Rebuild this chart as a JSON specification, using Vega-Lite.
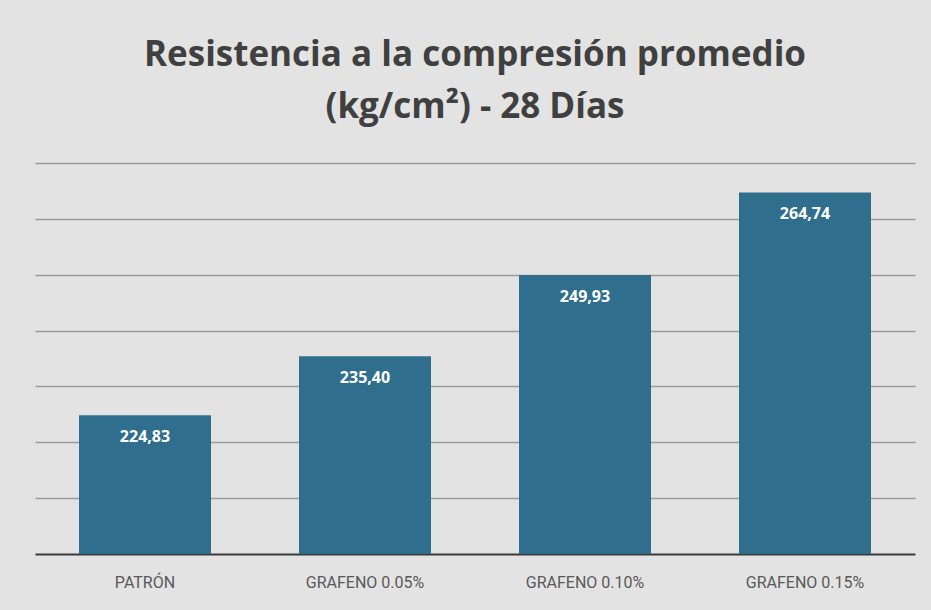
{
  "$schema": "https://vega.github.io/schema/vega-lite/v6.json",
  "autosize": "none",
  "width": 880,
  "height": 391,
  "padding": {"left": 35, "top": 163, "right": 16, "bottom": 56},
  "background": "#e3e3e3",
  "title": {
    "text": ["Resistencia a la compresión promedio", "(kg/cm²) - 28 Días"],
    "font": "Open Sans",
    "fontSize": 35,
    "fontWeight": "bold",
    "color": "#404040",
    "anchor": "middle",
    "frame": "group",
    "lineHeight": 52,
    "offset": 38
  },
  "data": {
    "values": [
      {"grupo": "PATRÓN", "valor": 224.83, "etiqueta": "224,83"},
      {"grupo": "GRAFENO 0.05%", "valor": 235.40, "etiqueta": "235,40"},
      {"grupo": "GRAFENO 0.10%", "valor": 249.93, "etiqueta": "249,93"},
      {"grupo": "GRAFENO 0.15%", "valor": 264.74, "etiqueta": "264,74"}
    ]
  },
  "encoding": {
    "x": {
      "field": "grupo",
      "type": "nominal",
      "sort": null,
      "scale": {"paddingInner": 0.4, "paddingOuter": 0.2},
      "axis": {
        "title": null,
        "labelAngle": 0,
        "labelFont": "Roboto",
        "labelFontSize": 16,
        "labelColor": "#595959",
        "labelPadding": 20,
        "ticks": false,
        "domainColor": "#3a3a3a",
        "domainWidth": 2
      }
    },
    "y": {
      "field": "valor",
      "type": "quantitative",
      "scale": {"domain": [200, 270], "nice": false, "zero": false},
      "axis": {
        "title": null,
        "labels": false,
        "ticks": false,
        "domain": false,
        "values": [210, 220, 230, 240, 250, 260, 270],
        "gridColor": "#9a9a9a",
        "gridWidth": 1.5
      }
    }
  },
  "layer": [
    {
      "mark": {"type": "bar", "color": "#2f6f8d"},
      "encoding": {"y2": {"datum": 200}}
    },
    {
      "mark": {
        "type": "text",
        "baseline": "top",
        "dy": 14,
        "color": "white",
        "font": "Open Sans",
        "fontWeight": "bold",
        "fontSize": 16
      },
      "encoding": {"text": {"field": "etiqueta"}}
    }
  ],
  "config": {"view": {"stroke": null}}
}
